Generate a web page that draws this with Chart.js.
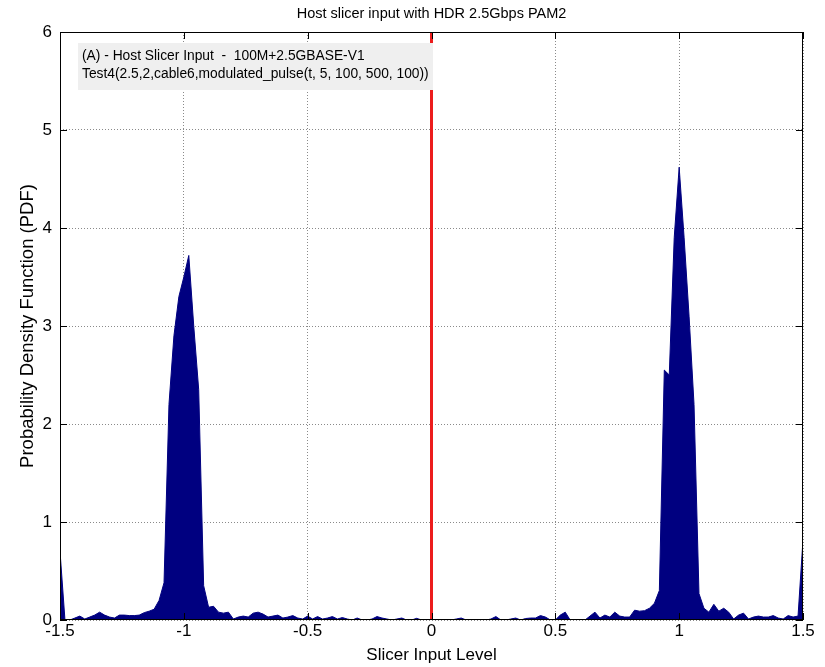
<!DOCTYPE html>
<html>
<head>
<meta charset="utf-8">
<script src="https://cdn.jsdelivr.net/npm/chart.js@4.4.1/dist/chart.umd.min.js"></script>
<style>
  html, body { margin: 0; padding: 0; background: #fff; }
  #wrap { width: 825px; height: 667px; }
</style>
</head>
<body>
<div id="wrap"><canvas id="pdf-chart" width="825" height="667"></canvas></div>
<script>
// histogram bins: centres from -1.5 to 1.5, 0.02 apart
const BIN_START = -1.5;
const BIN_WIDTH = 0.02;

// PDF estimate per bin
const pdfValues = [
  0.7, 0, 0, 0.02, 0.04, 0.01, 0.03, 0.05, 0.08, 0.05,
  0.03, 0.02, 0.05, 0.05, 0.045, 0.045, 0.05, 0.075, 0.09, 0.11,
  0.2, 0.38, 2.2, 2.9, 3.3, 3.5, 3.72, 3.0, 2.35, 0.35,
  0.13, 0.14, 0.08, 0.07, 0.08, 0.01, 0.03, 0.04, 0.03, 0.07,
  0.08, 0.06, 0.03, 0.04, 0.05, 0.02, 0.03, 0.045, 0.02, 0.01,
  0.04, 0.01, 0.035, 0.01, 0.02, 0.035, 0.01, 0.025, 0.01, 0,
  0.02, 0, 0, 0.01, 0.035, 0.02, 0.01, 0, 0.01, 0.02,
  0, 0, 0.017, 0, 0, 0, 0, 0, 0, 0,
  0.01, 0.02, 0, 0, 0, 0, 0, 0.01, 0.035, 0,
  0, 0.01, 0.02, 0, 0.015, 0.02, 0.02, 0.045, 0.03, 0,
  0, 0.05, 0.08, 0, 0, 0, 0, 0.04, 0.08, 0.02,
  0.05, 0.03, 0.08, 0.04, 0.03, 0.03, 0.1, 0.09, 0.095, 0.12,
  0.17, 0.3, 2.55, 2.5, 3.9, 4.62, 3.9, 3.1, 2.2, 0.27,
  0.12, 0.08, 0.16, 0.09, 0.12, 0.08, 0.01, 0.05, 0.07, 0.01,
  0.03, 0.04, 0.03, 0.03, 0.045, 0.02, 0.01, 0.045, 0.03, 0.04,
  0.82
];

// slicer threshold (red marker)
const thresholdLevel = 0;
const thresholdSpan = [0, 6];

const xTickLabels = ['-1.5', '-1', '-0.5', '0', '0.5', '1', '1.5'];
const yTickLabels = ['0', '1', '2', '3', '4', '5', '6'];

const titleText = 'Host slicer input with HDR 2.5Gbps PAM2';
const xTitle = 'Slicer Input Level';
const yTitle = 'Probability Density Function (PDF)';
const noteLines = [
  '(A) - Host Slicer Input  -  100M+2.5GBASE-V1',
  'Test4(2.5,2,cable6,modulated_pulse(t, 5, 100, 500, 100))'
];

const FONT = '"Liberation Sans", Arial, sans-serif';

const pdfPoints = pdfValues.map((v, i) => ({ x: +(BIN_START + i * BIN_WIDTH).toFixed(2), y: v }));
const thresholdPoints = thresholdSpan.map(y => ({ x: thresholdLevel, y }));

// matlab-ish box: frame, inward ticks, annotation
const matlabBox = {
  id: 'matlabBox',
  afterDatasetsDraw(chart) {
    const { ctx, chartArea: a } = chart;
    ctx.save();
    ctx.fillStyle = '#efefef';
    ctx.fillRect(a.left + 18, a.top + 11, 355, 47);
    ctx.fillStyle = '#000';
    ctx.font = '13.8px ' + FONT;
    ctx.textBaseline = 'middle';
    noteLines.forEach((t, i) => ctx.fillText(t, a.left + 22, a.top + 24 + i * 18.5));
    ctx.restore();
  },
  afterDraw(chart) {
    const { ctx, chartArea: a, scales } = chart;
    ctx.save();
    ctx.strokeStyle = '#000';
    ctx.lineWidth = 1;
    ctx.strokeRect(a.left + 0.5, a.top + 0.5, a.right - a.left - 1, a.bottom - a.top - 1);
    const len = 7;
    ctx.beginPath();
    scales.x.ticks.forEach(t => {
      const px = Math.round(scales.x.getPixelForValue(t.value)) + 0.5;
      ctx.moveTo(px, a.bottom); ctx.lineTo(px, a.bottom - len);
      ctx.moveTo(px, a.top); ctx.lineTo(px, a.top + len);
    });
    scales.y.ticks.forEach(t => {
      const py = Math.round(scales.y.getPixelForValue(t.value)) + 0.5;
      ctx.moveTo(a.left, py); ctx.lineTo(a.left + len, py);
      ctx.moveTo(a.right, py); ctx.lineTo(a.right - len, py);
    });
    ctx.stroke();
    ctx.restore();
  }
};

new Chart(document.getElementById('pdf-chart'), {
  type: 'line',
  data: {
    datasets: [
      { label: 'threshold', data: thresholdPoints, borderColor: '#ec1c1c', borderWidth: 3, pointRadius: 0, fill: false },
      { label: 'pdf', data: pdfPoints, borderColor: '#000080', backgroundColor: '#000080', borderWidth: 1, pointRadius: 0, tension: 0, fill: 'origin' }
    ]
  },
  options: {
    responsive: false,
    animation: false,
    layout: { padding: { top: 0, left: 0, right: 22, bottom: 0 } },
    plugins: {
      legend: { display: false },
      tooltip: { enabled: false },
      title: {
        display: true, text: titleText, color: '#000', fullSize: false,
        font: { family: FONT, size: 14.5, weight: 'normal' },
        padding: { top: 5, bottom: 9.6 }
      }
    },
    scales: {
      x: {
        type: 'linear', min: -1.5, max: 1.5,
        afterFit: s => { s.height = 47; },
        ticks: { stepSize: 0.5, color: '#000', padding: 1, maxRotation: 0,
          font: { family: FONT, size: 17 },
          callback: (v, i) => xTickLabels[i] },
        grid: { color: '#8a8a8a', drawTicks: false },
        border: { display: false, dash: [1, 2] },
        title: { display: true, text: xTitle, color: '#000', font: { family: FONT, size: 17 }, padding: { top: 0, bottom: 1 } }
      },
      y: {
        min: 0, max: 6,
        afterFit: s => { s.width = 60; },
        ticks: { stepSize: 1, color: '#000', padding: 8,
          font: { family: FONT, size: 17 },
          callback: (v, i) => yTickLabels[i] },
        grid: { color: '#8a8a8a', drawTicks: false },
        border: { display: false, dash: [1, 2] },
        title: { display: true, text: yTitle, color: '#000', font: { family: FONT, size: 18.5 }, padding: { top: 17, bottom: 0 } }
      }
    }
  },
  plugins: [matlabBox]
});
</script>
</body>
</html>
